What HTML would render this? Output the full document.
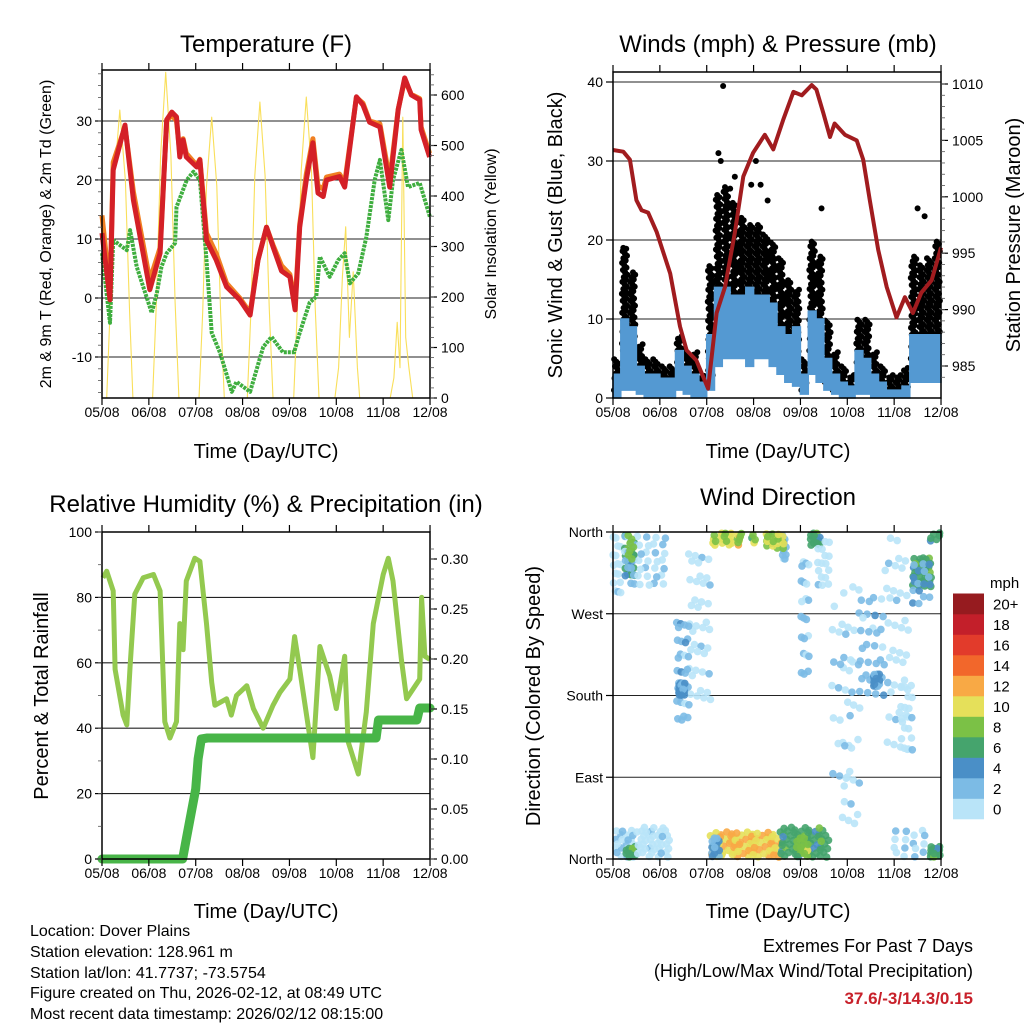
<!DOCTYPE html>
<html><head><meta charset="utf-8"><title>Dover Plains station meteogram</title>
<style>
html,body{margin:0;padding:0;background:#fff;}
svg{display:block;font-family:"Liberation Sans",Arial,sans-serif;}
</style></head>
<body>
<svg id="fig" width="1024" height="1024" viewBox="0 0 1024 1024" xmlns="http://www.w3.org/2000/svg">
<rect x="0" y="0" width="1024" height="1024" fill="#fff"/>
<g id="g-temp"></g>
<g id="g-wind"></g>
<g id="g-rh"></g>
<g id="g-dir"></g>

<text x="266" y="52" font-size="24" text-anchor="middle">Temperature (F)</text>
<text x="778" y="52" font-size="24" text-anchor="middle">Winds (mph) &amp; Pressure (mb)</text>
<text x="266" y="512" font-size="24" text-anchor="middle">Relative Humidity (%) &amp; Precipitation (in)</text>
<text x="778" y="505" font-size="24" text-anchor="middle">Wind Direction</text>

<text x="266" y="458" font-size="20" text-anchor="middle">Time (Day/UTC)</text>
<text x="778" y="458" font-size="20" text-anchor="middle">Time (Day/UTC)</text>
<text x="266" y="918" font-size="20" text-anchor="middle">Time (Day/UTC)</text>
<text x="778" y="918" font-size="20" text-anchor="middle">Time (Day/UTC)</text>

<text transform="translate(51,234) rotate(-90)" font-size="16" text-anchor="middle">2m &amp; 9m T (Red, Orange) &amp; 2m Td (Green)</text>
<text transform="translate(496,234) rotate(-90)" font-size="16" text-anchor="middle">Solar Insolation (Yellow)</text>
<text transform="translate(562,235) rotate(-90)" font-size="20" text-anchor="middle">Sonic Wind &amp; Gust (Blue, Black)</text>
<text transform="translate(1020,235) rotate(-90)" font-size="20" text-anchor="middle">Station Pressure (Maroon)</text>
<text transform="translate(48,696) rotate(-90)" font-size="20" text-anchor="middle">Percent &amp; Total Rainfall</text>
<text transform="translate(540,696) rotate(-90)" font-size="20" text-anchor="middle">Direction (Colored By Speed)</text>

<g font-size="16">
<text x="30" y="936">Location: Dover Plains</text>
<text x="30" y="957">Station elevation: 128.961 m</text>
<text x="30" y="978">Station lat/lon: 41.7737; -73.5754</text>
<text x="30" y="998">Figure created on Thu, 2026-02-12, at 08:49 UTC</text>
<text x="30" y="1019">Most recent data timestamp: 2026/02/12 08:15:00</text>
</g>
<g font-size="18" text-anchor="end">
<text x="973" y="952">Extremes For Past 7 Days</text>
<text x="973" y="977">(High/Low/Max Wind/Total Precipitation)</text>
<text x="973" y="1004" font-size="17" font-weight="bold" fill="#c8202a">37.6/-3/14.3/0.15</text>
</g>
</svg>
<script>
// ---------- shared ----------
const dayLabels = ["05/08","06/08","07/08","08/08","09/08","10/08","11/08","12/08"];
// Temperature (F)
const tempDays = [0,0.17,0.24,0.49,0.67,1.02,1.24,1.38,1.49,1.59,1.66,1.73,1.8,2.02,2.09,2.23,2.44,2.66,2.94,3.16,3.33,3.51,3.65,3.83,4.01,4.12,4.22,4.36,4.5,4.61,4.72,4.79,5.07,5.18,5.43,5.57,5.71,5.93,6.14,6.32,6.46,6.6,6.78,6.81,6.99];
const temp2m = [11,-0.3,21.7,29.3,16.6,1.4,7.6,30.2,31.5,30.7,23.9,26.8,23.9,22.2,23.4,9.8,6.4,1.9,-0.3,-2.9,6.4,12,8.7,4.6,3.6,-2,12,20,26.3,17.8,17.2,20,20.6,18.8,34.1,32.7,29.8,29,18.8,31.9,37.3,34.4,33.6,28.5,23.9];
const temp9m = [14,1,23,29,18,3,8.5,30,31,30,24.5,27,24.5,22.5,23.5,11,7.5,2.5,0,-2.5,6.5,12,9,5.5,4,-1,12.5,21,27,19,18.5,20.5,21,19.5,34,33,30,29.5,20,32,37,34.5,33.8,29,24.5];
const dewDays = [0,0.17,0.24,0.53,0.6,0.74,1.06,1.17,1.27,1.38,1.56,1.59,1.81,1.95,2.09,2.23,2.34,2.52,2.77,2.87,3.16,3.44,3.62,3.86,4.1,4.22,4.43,4.57,4.65,4.86,5.04,5.18,5.29,5.47,5.64,5.82,5.93,6.11,6.21,6.39,6.53,6.78,7.0];
const dewpoint = [7.6,-4.2,9.8,8.1,11.5,5.3,-2.5,0.8,5.3,7.6,9.3,15.4,20,21.4,20,6.4,-5.9,-9.3,-15.9,-14.2,-15.9,-8.3,-6.6,-9.2,-9.2,-5.9,-0.8,0.2,7,3.6,6.4,7.6,2.5,4.2,10.3,20,23.4,13.2,20,25.1,18.8,19.5,13.7];
const solarDays = [0.1,0.17,0.26,0.38,0.5,0.59,0.66, 1.08,1.16,1.25,1.36,1.47,1.56,1.64, 2.07,2.15,2.23,2.34,2.45,2.53,2.61, 3.1,3.18,3.26,3.37,3.48,3.57,3.65, 4.09,4.17,4.25,4.36,4.47,4.55,4.63, 4.97,5.05,5.13,5.2,5.28,5.36,5.45,5.5, 6.15,6.23,6.3,6.36,6.42,6.48,6.55,6.63];
const solarVals = [0,170,430,570,430,170,0, 0,190,480,645,480,190,0, 0,170,420,556,420,170,0, 0,175,440,586,440,175,0, 0,180,450,596,450,180,0, 0,60,240,339,120,250,60,0, 0,40,150,60,556,120,60,0];
// Wind (mph) per 4-hour bin, pressure (mb)
const gustMax = [5,19,16,7,5,5, 4,4,8,6,6,3, 17,26,27,25,23,22, 22,21,20,18,15,14, 5,20,18,10,6,4, 3,10,10,6,4,3, 3,4,18,17,18,20];
const gustMin = [1,3,3,2,1,1, 1,1,3,2,1,1, 2,11,12,10,9,9, 9,9,8,6,5,5, 1,6,5,2,1,1, 0.5,3,3,1,1,0.5, 0.5,0.5,5,6,6,6];
const windMax = [3,10,9,4,3,3, 2.5,2.5,6,4,3,2, 8,14,14,13,13,14, 13,13,12,9,8,9, 3,11,10,5,3,2, 1.5,6,5,3,2,1, 1,1.5,8,8,8,8];
const windMin = [0,1,1,0.5,0,0, 0,0,1,0.5,0,0, 1,4,5,5,5,4, 5,5,4,3,2,1.5, 0.5,3,2,1,0.5,0, 0,0.5,0.5,0,0,0, 0,0,2,2,2,2];
const gustOutlierDays = [0.25,0.25,0.22,2.35,2.25,2.3,2.6,3.05,3.15,2.5,4.45,6.5,6.65,2.95,3.3];
const gustOutlierVals = [16,13,19,39.5,31,30,28,30,27,26.5,24,24,23,27,25];
const presDays = [0,0.22,0.36,0.5,0.61,0.75,0.93,1.22,1.43,1.57,1.78,2.03,2.21,2.39,2.6,2.78,2.99,3.24,3.42,3.63,3.85,4.03,4.24,4.34,4.49,4.63,4.73,4.95,5.2,5.34,5.48,5.66,5.84,6.05,6.23,6.4,6.58,6.8,7.0];
const pressure = [1004.15,1004,1003.3,999.7,998.8,998.6,996.9,993.2,988.5,986.4,985.5,983,989.7,992,996.8,1001.8,1003.9,1005.5,1004.2,1006.8,1009.3,1009,1009.9,1009.5,1007.4,1005.3,1006.5,1005.5,1005,1003.3,999.7,995.3,992,989.3,991.1,989.7,991.5,992.6,995.5];
// RH (%) and precipitation (in)
const rhDays = [0.02,0.1,0.24,0.28,0.45,0.53,0.6,0.7,0.88,1.1,1.24,1.34,1.45,1.59,1.66,1.73,1.8,1.98,2.09,2.23,2.34,2.41,2.66,2.76,2.87,3.09,3.23,3.44,3.65,3.8,4.01,4.11,4.22,4.5,4.65,4.86,5.0,5.18,5.25,5.47,5.64,5.79,6.0,6.11,6.21,6.39,6.5,6.78,6.82,6.89,7.0];
const rhVals = [86,88,82,58,44,41,59,81,86,87,82,42,37,42,72,64,85,92,91,72,54,47,49,44,50,53,46,40,47,51,55,68,58,31,65,56,46,62,36,26,45,72,87,92,85,61,49,55,80,62,61];
const precipDays = [0,1.72,1.8,1.9,2.0,2.05,2.12,2.25,5.85,5.9,6.72,6.78,7.0];
const precipVals = [0,0,0.02,0.045,0.07,0.1,0.12,0.121,0.121,0.139,0.139,0.151,0.151];
// Wind direction clusters: day range, direction range (deg), speed (mph), number of obs
const dirDay0 = [0.0,0.25,0.25,0.5,1.6,1.35,1.4,2.1,2.05,2.1,3.55,3.9,4.2,4.0,4.35,4.85,5.2,5.55,5.8,6.35,6.35,6.75,6.75,0.0,0.25,0.5,5.9,6.1,2.2,3.6,4.6,0.3,3.2];
const dirDay1 = [0.2,0.5,0.5,1.2,2.1,1.65,1.55,2.8,3.6,2.3,4.6,4.2,4.45,4.2,4.65,5.3,5.8,5.7,6.3,6.8,6.8,7.0,7.0,0.45,0.5,1.2,6.7,6.4,3.4,3.7,5.1,0.45,3.65];
const dirLo = [290,310,300,300,175,150,180,345,2,2,2,2,345,200,300,35,180,190,120,300,280,2,350,2,2,2,2,120,348,330,60,330,342];
const dirHi = [360,360,360,360,350,270,195,360,30,25,35,25,360,340,355,330,300,205,355,335,330,15,360,35,15,35,35,200,360,360,280,360,360];
const dirSpeed = [1,7,3,1.5,1,3,4.5,11,12,4,7,9,7,2.5,1,1,3,4.5,1,7,4,7,7,2,7,1,2,1,9,3,2,9,10];
const dirCount = [16,16,14,28,40,30,24,20,80,14,65,14,14,22,16,24,32,22,40,30,16,14,6,22,10,40,16,18,14,10,24,8,18];

// ---------- helpers ----------
const NS = "http://www.w3.org/2000/svg";
const DAYW = 46.86;
function mk(tag, attrs, parent){
  const e = document.createElementNS(NS, tag);
  for (const k in attrs) e.setAttribute(k, attrs[k]);
  parent.appendChild(e);
  return e;
}
function pathFrom(xs, ys, xf, yf){
  let d = "";
  for (let i=0;i<xs.length;i++) d += (i?"L":"M") + xf(xs[i]).toFixed(1) + "," + yf(ys[i]).toFixed(1);
  return d;
}
function frame(g, x0, y0, x1, y1, ticksBottomY){
  for (let i=0;i<dayLabels.length;i++){
    const x = x0 + i*DAYW;
    const t1 = mk("line",{x1:x,y1:y1,x2:x,y2:y1+7,stroke:"#000","stroke-width":1.2},g);
    
    
    const t2 = mk("line",{x1:x,y1:y0,x2:x,y2:y0-7,stroke:"#000","stroke-width":1.2},g);
    
    
    const lb = mk("text",{x:x,y:ticksBottomY,"font-size":14,"text-anchor":"middle"},g);
    lb.textContent = dayLabels[i];
    
    
  }
}
function box(g, x0, y0, x1, y1){
  const r = mk("rect",{x:x0,y:y0,width:x1-x0,height:y1-y0,fill:"none",stroke:"#000","stroke-width":1.5},g);
  
  
}
function hgrid(g, y, x0, x1){
  const l = mk("line",{x1:x0,y1:y,x2:x1,y2:y,stroke:"#222","stroke-width":1.1},g);
  
  
}
function yTicks(g, vals, yf, x, side, labels, minorStep, lo, hi){
  for (let i=0;i<vals.length;i++){
    const y = yf(vals[i]);
    const t = mk("line",{x1:x,y1:y,x2:x+(side==="left"?-7:7),y2:y,stroke:"#000","stroke-width":1.2},g);
    
    
    const lb = mk("text",{x:side==="left"?x-10:x+11,y:y+5,"font-size":14,"text-anchor":side==="left"?"end":"start"},g);
    lb.textContent = labels[i];
    
    
  }
  if (minorStep){
    for (let v=Math.ceil(lo/minorStep)*minorStep; v<=hi; v+=minorStep){
      const y = yf(v);
      const t = mk("line",{x1:x,y1:y,x2:x+(side==="left"?-4:4),y2:y,stroke:"#555","stroke-width":0.8},g);
      
      
    }
  }
}

// ---------- temperature panel ----------
(function(){
  const g = document.getElementById("g-temp");
  const X0=102, X1=430, Y0=70, Y1=398;
  const xf = d => X0 + d*DAYW;
  const yf = v => 298 - v*5.9;
  const sf = w => 398 - w*0.505;
  [-10,0,10,20,30].forEach(v=>hgrid(g,yf(v),X0,X1));
  const sol = mk("path",{d:pathFrom(solarDays,solarVals,xf,sf),fill:"none",stroke:"#f9df5a","stroke-width":1.1,"stroke-linejoin":"round"},g);
  
  
  const dp = mk("path",{d:pathFrom(dewDays,dewpoint,xf,yf),fill:"none",stroke:"#3fae3f","stroke-width":4,"stroke-dasharray":"3 1","stroke-linejoin":"round"},g);
  
  
  const t9 = mk("path",{d:pathFrom(tempDays,temp9m,xf,yf),fill:"none",stroke:"#f07f22","stroke-width":5,"stroke-linejoin":"round"},g);
  
  
  const t2 = mk("path",{d:pathFrom(tempDays,temp2m,xf,yf),fill:"none",stroke:"#d42027","stroke-width":5,"stroke-linejoin":"round"},g);
  
  
  box(g,X0,Y0,X1,Y1);
  frame(g,X0,Y0,X1,Y1,417);
  yTicks(g,[-10,0,10,20,30],yf,X0,"left",["-10","0","10","20","30"],2,-16,38);
  yTicks(g,[0,100,200,300,400,500,600],sf,X1,"right",["0","100","200","300","400","500","600"],20,0,640);
})();

// ---------- wind panel ----------
(function(){
  const g = document.getElementById("g-wind");
  const X0=613, X1=941, Y0=72, Y1=398;
  const xf = d => X0 + d*DAYW;
  const yf = v => 398 - v*7.9;
  const pf = p => 84 + (1010-p)*11.28;
  [10,20,30,40].forEach(v=>hgrid(g,yf(v),X0,X1));
  const bw = DAYW/6;
  for (let i=0;i<gustMax.length;i++){
    const xa = X0 + i*bw;
    let k = 0;
    for (let v=gustMin[i]; v<=gustMax[i]; v+=0.3){
      const cx = xa + 1 + ((k*0.618)%1)*(bw-2);
      const c = mk("circle",{cx:cx.toFixed(1),cy:yf(v).toFixed(1),r:3,fill:"#000"},g);
      
      
      k++;
    }
  }
  for (let i=0;i<gustOutlierDays.length;i++){
    const c = mk("circle",{cx:xf(gustOutlierDays[i]),cy:yf(gustOutlierVals[i]),r:3,fill:"#000"},g);
    
    
  }
  let d = "";
  for (let i=0;i<windMax.length;i++){
    const xa = X0+i*bw, xb = X0+(i+1)*bw;
    d += (i?"L":"M")+xa.toFixed(1)+","+yf(windMax[i]).toFixed(1)+"L"+xb.toFixed(1)+","+yf(windMax[i]).toFixed(1);
  }
  for (let i=windMin.length-1;i>=0;i--){
    const xa = X0+i*bw, xb = X0+(i+1)*bw;
    d += "L"+xb.toFixed(1)+","+yf(windMin[i]).toFixed(1)+"L"+xa.toFixed(1)+","+yf(windMin[i]).toFixed(1);
  }
  const band = mk("path",{d:d+"Z",fill:"#5499d2",stroke:"#5499d2","stroke-width":1.5},g);
  
  
  const pr = mk("path",{d:pathFrom(presDays,pressure,xf,pf),fill:"none",stroke:"#a11c1f","stroke-width":4,"stroke-linejoin":"round"},g);
  
  
  box(g,X0,Y0,X1,Y1);
  frame(g,X0,Y0,X1,Y1,417);
  yTicks(g,[0,10,20,30,40],yf,X0,"left",["0","10","20","30","40"],null);
  yTicks(g,[985,990,995,1000,1005,1010],pf,X1,"right",["985","990","995","1000","1005","1010"],1,984,1010);
})();

// ---------- RH panel ----------
(function(){
  const g = document.getElementById("g-rh");
  const X0=102, X1=430, Y0=532, Y1=859;
  const xf = d => X0 + d*DAYW;
  const yf = v => 859 - v*3.27;
  const pf = p => 859 - p*1000;
  [20,40,60,80].forEach(v=>hgrid(g,yf(v),X0,X1));
  const rh = mk("path",{d:pathFrom(rhDays,rhVals,xf,yf),fill:"none",stroke:"#93c94f","stroke-width":5,"stroke-linejoin":"round"},g);
  
  
  const pc = mk("path",{d:pathFrom(precipDays,precipVals,xf,pf),fill:"none",stroke:"#48b548","stroke-width":9,"stroke-linejoin":"round","stroke-linecap":"round"},g);
  
  
  box(g,X0,Y0,X1,Y1);
  frame(g,X0,Y0,X1,Y1,878);
  yTicks(g,[0,20,40,60,80,100],yf,X0,"left",["0","20","40","60","80","100"],10,0,100);
  yTicks(g,[0,0.05,0.1,0.15,0.2,0.25,0.3],pf,X1,"right",["0.00","0.05","0.10","0.15","0.20","0.25","0.30"],0.01,0,0.32);
})();

// ---------- wind direction panel ----------
(function(){
  const g = document.getElementById("g-dir");
  const X0=613, X1=941, Y0=532, Y1=859;
  const xf = d => X0 + d*DAYW;
  const yf = v => 859 - v/360*327;
  const cols = ["#b9e4f8","#7cbbe5","#4a8fc7","#45a46d","#7bc146","#e5e05a","#f8a945","#f2672b","#e23b2b","#c31f2a","#961b1f"];
  const colFor = s => cols[Math.min(10, Math.floor(s/2))];
  [90,180,270].forEach(v=>hgrid(g,yf(v),X0,X1));
  for (let c=0;c<dirDay0.length;c++){
    const n = dirCount[c];
    for (let i=0;i<n;i++){
      const u1 = (0.5 + (i+c)*0.7548777)%1;
      const u2 = (0.5 + (i+c)*0.5698403)%1;
      const dd = dirDay0[c] + (dirDay1[c]-dirDay0[c])*u1;
      const dv = dirLo[c] + (dirHi[c]-dirLo[c])*u2;
      const s = Math.max(0, dirSpeed[c] + (((i*0.37)%1)-0.5)*2.5);
      const dot = mk("circle",{cx:xf(dd).toFixed(1),cy:yf(dv).toFixed(1),r:3.8,fill:colFor(s),"fill-opacity":0.9},g);
      
      
    }
  }
  box(g,X0,Y0,X1,Y1);
  frame(g,X0,Y0,X1,Y1,878);
  yTicks(g,[0,90,180,270,360],yf,X0,"left",["North","East","South","West","North"],null);
  const cbLabels = ["0","2","4","6","8","10","12","14","16","18","20+"];
  const cbg = mk("g",{},g);
  
  
  for (let i=0;i<11;i++){
    const y = 819 - (i+1)*20.5;
    const r = mk("rect",{x:953,y:y.toFixed(1),width:31,height:20.8,fill:cols[i]},cbg);
    
    
    const t = mk("text",{x:993,y:(y+16).toFixed(1),"font-size":15},cbg);
    t.textContent = cbLabels[i];
    
    
  }
  const u = mk("text",{x:990,y:588,"font-size":15},cbg);
  u.textContent = "mph";
  
  
})();
</script>
</body></html>
